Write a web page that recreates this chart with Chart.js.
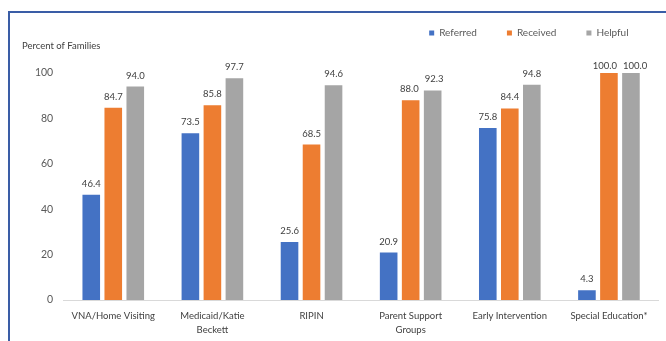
<!DOCTYPE html>
<html>
<head>
<meta charset="utf-8">
<script src="https://cdn.jsdelivr.net/npm/chart.js@4"></script>
<style>
  html, body { margin: 0; padding: 0; background: #fff; overflow: hidden; }
  #wrap { position: relative; width: 666px; height: 341px; overflow: hidden; }
  #frame {
    position: absolute; left: 8px; top: 11px; width: 656px; height: 328px;
    border-top: 2px solid #3a5da6; border-left: 2px solid #3a5da6;
  }
  canvas { position: absolute; left: 0; top: 0; }
</style>
</head>
<body>
<div id="wrap">
  <div id="frame"></div>
  <canvas id="servicesChart" width="666" height="341"></canvas>
</div>
<script>
const categories = ["VNA/Home Visiting", ["Medicaid/Katie", "Beckett"], "RIPIN", ["Parent Support", "Groups"], "Early Intervention", "Special Education*"];
const referred = [46.4, 73.5, 25.6, 20.9, 75.8, 4.3];
const received = [84.7, 85.8, 68.5, 88.0, 84.4, 100.0];
const helpful = [94.0, 97.7, 94.6, 92.3, 94.8, 100.0];
const seriesNames = ["Referred", "Received", "Helpful"];
const colores = ["#4472C4", "#ED7D31", "#A5A5A5"];
const yMax = 100;
const yStep = 20;

const fontFam = "Lato, sans-serif";

// etiquetas de valor encima de cada barra; si dos se pisan, se separan
const valueLabels = {
  id: "valueLabels",
  afterDatasetsDraw(chart) {
    const ctx = chart.ctx;
    ctx.save();
    ctx.font = "9.5px " + fontFam;
    ctx.fillStyle = "#404040";
    ctx.textAlign = "center";
    ctx.textBaseline = "alphabetic";
    const n = chart.data.labels.length;
    for (let j = 0; j < n; j++) {
      const items = chart.data.datasets.map((ds, i) => {
        const bar = chart.getDatasetMeta(i).data[j];
        const text = ds.data[j].toFixed(1);
        return { text, x: bar.x, y: Math.max(bar.y - 8, 69), w: ctx.measureText(text).width };
      });
      for (let k = 1; k < items.length; k++) {
        const a = items[k - 1], b = items[k];
        const need = (a.w + b.w) / 2 + 6;
        if (Math.abs(a.y - b.y) < 10 && b.x - a.x < need) {
          const shift = (need - (b.x - a.x)) / 2;
          a.x -= shift;
          b.x += shift;
        }
      }
      items.forEach(it => ctx.fillText(it.text, it.x, it.y));
    }
    ctx.restore();
  }
};

const ctx = document.getElementById("servicesChart").getContext("2d");
new Chart(ctx, {
  type: "bar",
  data: {
    labels: categories,
    datasets: [
      { label: seriesNames[0], data: referred, backgroundColor: colores[0] },
      { label: seriesNames[1], data: received, backgroundColor: colores[1] },
      { label: seriesNames[2], data: helpful, backgroundColor: colores[2] }
    ]
  },
  options: {
    responsive: false,
    animation: false,
    devicePixelRatio: 1,
    categoryPercentage: 0.666,
    barPercentage: 0.8,
    layout: { padding: { left: 22, right: 7.5, top: -2, bottom: -5.5 } },
    plugins: {
      legend: {
        position: "top",
        align: "end",
        labels: {
          boxWidth: 5,
          boxHeight: 5,
          padding: 30,
          color: "#595959",
          font: { family: fontFam, size: 10 }
        }
      },
      title: {
        display: true,
        text: "Percent of Families",
        align: "start",
        position: "top",
        weight: 500,
        color: "#404040",
        font: { family: fontFam, size: 9.5, weight: "normal" },
        padding: { top: -7.7, bottom: 21.3 }
      },
      tooltip: { enabled: false }
    },
    scales: {
      x: {
        grid: { display: false, drawTicks: false },
        border: { display: true, color: "#d9d9d9", width: 1 },
        ticks: {
          color: "#404040",
          padding: 9,
          maxRotation: 0,
          autoSkip: false,
          font: { family: fontFam, size: 9.5, lineHeight: 1.5 }
        }
      },
      y: {
        min: 0,
        max: yMax,
        grid: { display: false, drawTicks: false },
        border: { display: false },
        ticks: {
          stepSize: yStep,
          padding: 10.5,
          color: "#595959",
          font: { family: fontFam, size: 10.5 }
        },
        afterFit(scale) { scale.width = 41.7; }
      }
    }
  },
  plugins: [valueLabels]
});
</script>
</body>
</html>
